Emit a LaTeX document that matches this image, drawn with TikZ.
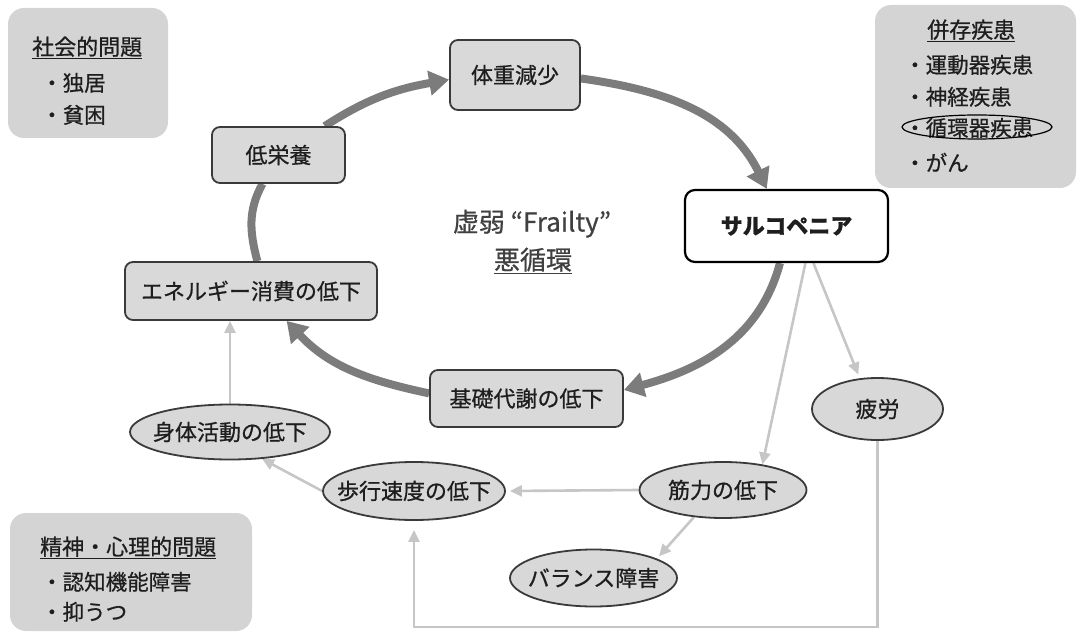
\documentclass[tikz,border=0pt]{standalone}
\usepackage{fontspec}
\setmainfont{Noto Sans CJK JP}[FakeBold=0.7]
\usetikzlibrary{arrows.meta,shapes.geometric,backgrounds}
\definecolor{boxfill}{HTML}{D9D9D9}
\definecolor{ellfill}{HTML}{D8D8D8}
\definecolor{bgfill}{HTML}{D4D4D4}
\definecolor{bord}{HTML}{3A3A3A}
\definecolor{txt}{HTML}{1E1E1E}
\definecolor{cycgray}{HTML}{7C7C7C}
\definecolor{ltgray}{HTML}{C6C6C6}
\begin{document}
\begin{tikzpicture}[x=1pt,y=1pt,
  every node/.style={font=\fontsize{22}{26}\selectfont, text=txt},
  cbox/.style={draw=bord, line width=1.8pt, fill=boxfill, rounded corners=8pt, inner sep=0pt},
  sbox/.style={draw=black, line width=2.2pt, fill=white, rounded corners=10pt, inner sep=0pt},
  ell/.style={ellipse, draw=bord, line width=1.8pt, fill=ellfill, inner sep=0pt},
  bgbox/.style={fill=bgfill, rounded corners=16pt, inner sep=0pt},
  item/.style={anchor=base west, inner sep=0pt, font=\fontsize{21.5}{25}\selectfont},
  ttl/.style={anchor=base west, inner sep=0pt, font=\fontsize{22}{26}\selectfont},
  cyc/.style={line width=8pt, draw=cycgray},
  cyca/.style={cyc, -{Triangle[length=20pt,width=24pt]}},
  lt/.style={line width=2.6pt, draw=ltgray, -{Triangle[length=12pt,width=11pt]}},
]
\useasboundingbox (0,0) rectangle (1081,633);

% background boxes
\node[bgbox, minimum width=160, minimum height=130] (soc) at (88,560) {};
\node[bgbox, minimum width=201, minimum height=183] (hei) at (975.5,536.5) {};
\node[bgbox, minimum width=242, minimum height=118] (sei) at (131,61) {};

\node[ttl] (socT) at (32,578) {\underline{社会的問題}};
\node[item] (soc1) at (41,542) {・独居};
\node[item] (soc2) at (41,510) {・貧困};

\node[ttl] (heiT) at (927,595) {\underline{併存疾患}};
\node[item] (hei1) at (904,560) {・運動器疾患};
\node[item] (hei2) at (904,528) {・神経疾患};
\node[item] (hei3) at (904,497) {・循環器疾患};
\node[item] (hei4) at (904,462) {・がん};
\node[ellipse, draw=black, line width=1.2pt, minimum width=150, minimum height=24, inner sep=0pt] (circ) at (977,506) {};

\node[ttl] (seiT) at (40,78) {\underline{精神・心理的問題}};
\node[item] (sei1) at (41,43) {・認知機能障害};
\node[item] (sei2) at (41,13) {・抑うつ};

% center title
\node[anchor=base, inner sep=0pt, text=black!75, font=\fontsize{26}{30}\selectfont] (fr) at (532,401.5) {虚弱 “Frailty”};
\node[anchor=base, inner sep=0pt, text=black!75, font=\fontsize{26}{30}\selectfont] (ak) at (533,363.5) {\underline{悪循環}};

% cycle nodes
\node[cbox, minimum width=133, minimum height=56] (dei) at (278.5,478) {低栄養};
\node[cbox, minimum width=130, minimum height=70] (tai) at (515,558) {体重減少};
\node[sbox, minimum width=203, minimum height=72] (sar) at (786.5,407) {\bfseries サルコペニア};
\node[cbox, minimum width=193, minimum height=57] (kis) at (526.5,234.5) {基礎代謝の低下};
\node[cbox, minimum width=252, minimum height=58] (ene) at (251,342) {エネルギー消費の低下};

% ellipses
\node[ell, minimum width=200, minimum height=55] (shin) at (230,201) {\makebox[0pt]{身体活動の低下}};
\node[ell, minimum width=182, minimum height=58] (hoko) at (414,142) {\makebox[0pt]{歩行速度の低下}};
\node[ell, minimum width=167, minimum height=56] (kin) at (723,143) {\makebox[0pt]{筋力の低下}};
\node[ell, minimum width=167, minimum height=57] (bal) at (593.5,55) {\makebox[0pt]{バランス障害}};
\node[ell, minimum width=131, minimum height=62] (hiro) at (877.5,224) {\makebox[0pt]{疲労}};

\coordinate (bot) at (0,6);

\begin{scope}[on background layer]
  % vicious cycle
  \draw[cyca] (dei.32) to[out=33,in=190] (tai.184);
  \draw[cyca] (tai.-3) to[out=-8,in=116] (sar.118);
  \draw[cyca] (sar.-100) to[out=255,in=15] (kis.5);
  \draw[cyca] (kis.177) to[out=168,in=-47] (ene.-40);
  \draw[cyc] (ene.78) to[out=105,in=241] (dei.-119);
  % light arrows
  \draw[lt] (sar.-63) -- (kin.33);
  \draw[lt, shorten >=4pt] (sar.-54) -- (hiro.120);
  \draw[lt, shorten >=4pt] (kin.west) -- (hoko.east);
  \draw[lt, shorten >=3pt] (kin.223) -- (bal.17);
  \draw[lt] (hoko.west) -- (shin.-40);
  \draw[lt] (shin.north) -- (shin.north |- ene.south);
  \draw[lt, shorten >=9pt] (hiro.south) -- (hiro.south |- bot) -- (hoko.south |- bot) -- (hoko.south);
\end{scope}
\end{tikzpicture}
\end{document}
